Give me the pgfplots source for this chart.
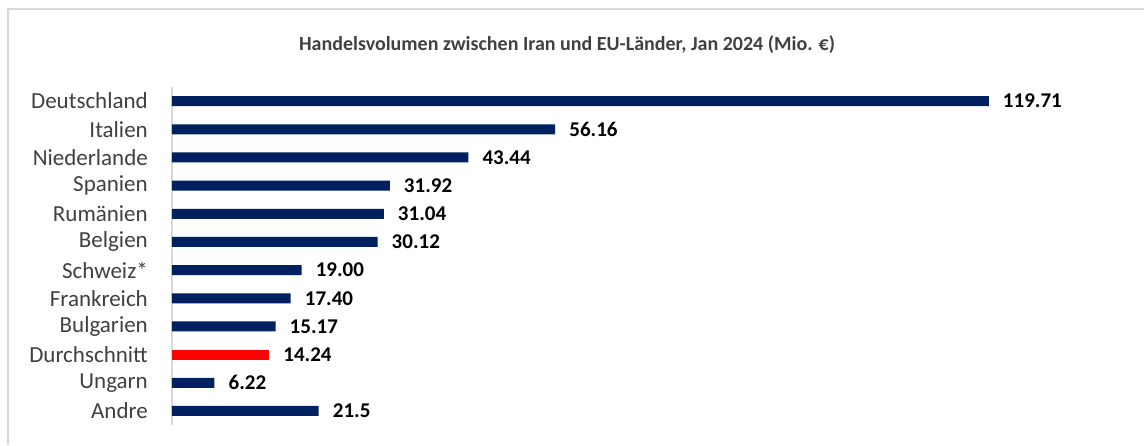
\documentclass[border=0pt]{standalone}
\usepackage{pgfplots}
\pgfplotsset{compat=1.18}
\usepackage{fontspec}
\setmainfont{Carlito}
\definecolor{navy}{HTML}{002060}
\definecolor{avgred}{HTML}{FF0000}
\definecolor{labgray}{HTML}{404040}
\definecolor{framegray}{HTML}{D9D9D9}

\begin{document}
\begin{tikzpicture}
\path[use as bounding box] (0pt,0pt) rectangle (1144pt,445pt);
\draw[framegray,line width=1.5pt] (8pt,0pt) -- (8pt,436pt) -- (1144pt,436pt);
\node[labgray,font=\fontsize{20}{24}\selectfont\bfseries] at (567pt,400pt)
  {Handelsvolumen zwischen Iran und EU-Länder, Jan 2024 (Mio. €)};
\begin{axis}[
    at={(172pt,20pt)}, anchor=south west,
    width=887pt, height=338pt, scale only axis,
    xbar, bar width=10pt, bar shift=0pt,
    xmin=0, xmax=130,
    ymin=-0.5, ymax=11.5, y dir=reverse,
    axis x line=none,
    axis y line*=left,
    y axis line style={draw=framegray, line width=1.2pt},
    ytick={0,...,11},
    yticklabels={Deutschland,Italien,Niederlande,Spanien,Rumänien,Belgien,Schweiz*,Frankreich,Bulgarien,Durchschnitt,Ungarn,Andre},
    ytick style={draw=none},
    major tick length=0pt,
    yticklabel style={font=\fontsize{23}{27}\selectfont, text=labgray, inner sep=0pt, xshift=-24pt},
    point meta=explicit symbolic,
    nodes near coords,
    nodes near coords style={font=\fontsize{21}{25}\selectfont\bfseries, text=black, anchor=west, inner sep=0pt, xshift=14pt},
    clip=false,
  ]
  \addplot[fill=navy, draw=none] table[meta=l] {
x      y  l
119.71 0  119.71
56.16  1  56.16
43.44  2  43.44
31.92  3  31.92
31.04  4  31.04
30.12  5  30.12
19.00  6  19.00
17.40  7  17.40
15.17  8  15.17
6.22   10 6.22
21.5   11 21.5
};
  \addplot[fill=avgred, draw=none] table[meta=l] {
x      y  l
14.24  9  14.24
};
\end{axis}
\end{tikzpicture}
\end{document}
